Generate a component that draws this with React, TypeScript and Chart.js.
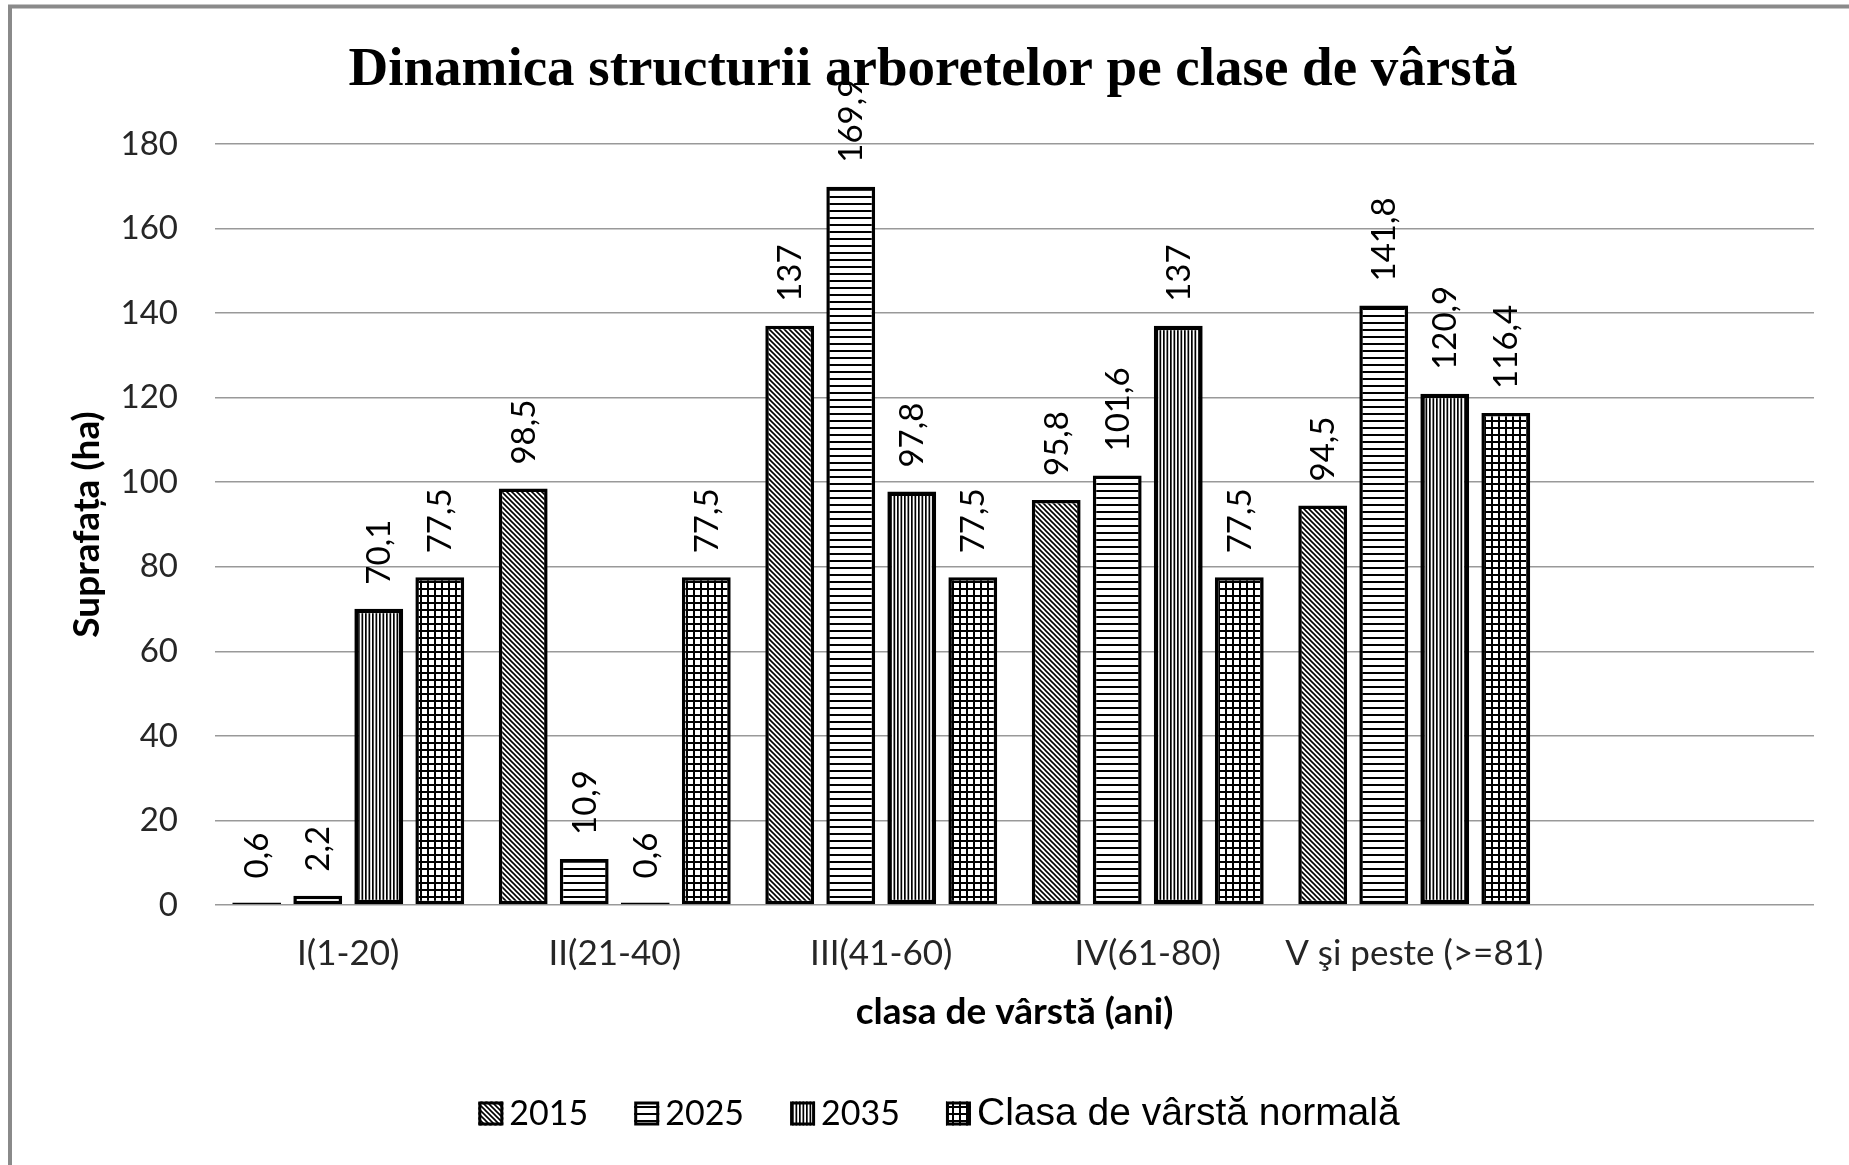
import React, { useEffect, useRef } from 'react';
import { Chart, registerables } from 'chart.js';

Chart.register(...registerables);

const categories = ['I(1-20)', 'II(21-40)', 'III(41-60)', 'IV(61-80)', 'V şi peste (>=81)', ''];
const seriesNames = ['2015', '2025', '2035', 'Clasa de vârstă normală'];
const values2015 = [0.6, 98.5, 137, 95.8, 94.5, null];
const values2025 = [2.2, 10.9, 169.9, 101.6, 141.8, null];
const values2035 = [70.1, 0.6, 97.8, 137, 120.9, null];
const valuesNormal = [77.5, 77.5, 77.5, 77.5, 116.4, null];
const yMin = 0;
const yMax = 180;
const yStep = 20;

const titleText = 'Dinamica structurii arboretelor pe clase de vârstă';
const xTitle = 'clasa de vârstă (ani)';
const yTitle = 'Suprafața (ha)';

function makePattern(kind: string): CanvasPattern | string {
  const c = document.createElement('canvas');
  let w = 7;
  let h = 7;
  if (kind === 'diag') { w = 5; h = 5; }
  if (kind === 'horiz') { w = 4; h = 7; }
  if (kind === 'vert') { w = 7; h = 4; }
  c.width = w;
  c.height = h;
  const g = c.getContext('2d');
  if (!g) return '#fff';
  g.fillStyle = '#fff';
  g.fillRect(0, 0, w, h);
  g.fillStyle = '#000';
  g.strokeStyle = '#000';
  if (kind === 'diag') {
    g.lineWidth = 1.6;
    g.beginPath();
    g.moveTo(-1, -1); g.lineTo(w + 1, h + 1);
    g.moveTo(w - 1, -1); g.lineTo(w + 1, 1);
    g.moveTo(-1, h - 1); g.lineTo(1, h + 1);
    g.stroke();
  } else if (kind === 'horiz') {
    g.fillRect(0, 0, w, 2);
  } else if (kind === 'vert') {
    g.fillRect(1, 0, 1.7, h);
    g.fillRect(4.5, 0, 1.7, h);
  } else {
    g.fillRect(0, 0, w, 2);
    g.fillRect(0, 0, 2, h);
  }
  return g.createPattern(c, 'repeat') || '#fff';
}

const framePlugin = {
  id: 'frame',
  beforeDraw(chart: any) {
    const { ctx, width, height } = chart;
    ctx.save();
    ctx.fillStyle = '#ffffff';
    ctx.fillRect(0, 0, width, height);
    ctx.strokeStyle = '#8a8a8a';
    ctx.lineWidth = 4;
    ctx.strokeRect(10, 6.5, width + 40, height + 40);
    ctx.restore();
  },
};

const barLabelsPlugin = {
  id: 'barLabels',
  afterDatasetsDraw(chart: any) {
    const ctx = chart.ctx;
    ctx.save();
    ctx.font = '33px Lato';
    ctx.fillStyle = '#000';
    ctx.textAlign = 'left';
    ctx.textBaseline = 'middle';
    chart.data.datasets.forEach((ds: any, di: number) => {
      const meta = chart.getDatasetMeta(di);
      meta.data.forEach((el: any, i: number) => {
        const v = ds.data[i];
        if (v == null) return;
        const p = el.getProps(['x', 'y'], true);
        ctx.save();
        ctx.translate(p.x + 1, p.y - 24);
        ctx.rotate(-Math.PI / 2);
        ctx.fillText(String(v).replace('.', ','), 0, 0);
        ctx.restore();
      });
    });
    ctx.restore();
  },
};

const legendPlugin = {
  id: 'patternLegend',
  afterDraw(chart: any) {
    const ctx = chart.ctx;
    const boxW = 25;
    const boxH = 24;
    const gap = 6;
    const spacing = 46;
    const centerX = 939;
    const centerY = 1113.5;
    const items = chart.data.datasets.map((ds: any, i: number) => ({
      text: ds.label,
      fill: ds.backgroundColor,
      font: i === 3 ? '39px "Liberation Sans"' : '34px Lato',
    }));
    ctx.save();
    let total = 0;
    items.forEach((it: any) => {
      ctx.font = it.font;
      it.w = ctx.measureText(it.text).width;
      total += boxW + gap + it.w;
    });
    total += spacing * (items.length - 1);
    let x = centerX - total / 2;
    ctx.textAlign = 'left';
    ctx.textBaseline = 'middle';
    items.forEach((it: any) => {
      ctx.fillStyle = it.fill;
      ctx.fillRect(x, centerY - boxH / 2, boxW, boxH);
      ctx.strokeStyle = '#000';
      ctx.lineWidth = 3;
      ctx.strokeRect(x + 1.5, centerY - boxH / 2 + 1.5, boxW - 3, boxH - 3);
      ctx.fillStyle = '#000';
      ctx.font = it.font;
      ctx.fillText(it.text, x + boxW + gap, centerY + 1);
      x += boxW + gap + it.w + spacing;
    });
    ctx.restore();
  },
};

export default function App() {
  const ref = useRef<HTMLCanvasElement | null>(null);

  useEffect(() => {
    if (!ref.current) return;
    const common = { borderColor: '#000', categoryPercentage: 0.916, barPercentage: 0.8, borderSkipped: false };
    const chart = new Chart(ref.current, {
      type: 'bar',
      data: {
        labels: categories,
        datasets: [
          { label: seriesNames[0], data: values2015, backgroundColor: makePattern('diag'), borderWidth: 3.5, ...common },
          { label: seriesNames[1], data: values2025, backgroundColor: makePattern('horiz'), borderWidth: 3.5, ...common },
          { label: seriesNames[2], data: values2035, backgroundColor: makePattern('vert'), borderWidth: 4.5, ...common },
          { label: seriesNames[3], data: valuesNormal, backgroundColor: makePattern('grid'), borderWidth: 3.5, ...common },
        ] as any,
      },
      options: {
        animation: false,
        responsive: false,
        devicePixelRatio: 1,
        layout: { padding: { left: 52, right: 35, top: 0, bottom: 112.5 } },
        plugins: {
          title: {
            display: true,
            text: titleText,
            color: '#000',
            font: { family: 'Liberation Serif', size: 55, weight: 'bold' },
            padding: { top: 38, bottom: 40 },
          },
          legend: { display: false },
          tooltip: { enabled: false },
        },
        scales: {
          x: {
            grid: { display: false, drawTicks: false },
            border: { display: false },
            ticks: {
              font: { family: 'Lato', size: 35 },
              color: '#262626',
              padding: 28,
              maxRotation: 0,
              autoSkip: false,
            },
            title: {
              display: true,
              text: xTitle,
              color: '#000',
              font: { family: 'Lato', size: 37, weight: 'bold' },
              padding: { top: 0, bottom: 18 },
            },
            afterFit: (s: any) => { s.height = 147.5; },
          },
          y: {
            min: yMin,
            max: yMax,
            ticks: {
              stepSize: yStep,
              font: { family: 'Lato', size: 33 },
              color: '#262626',
              padding: 37,
            },
            grid: { color: '#999', lineWidth: 1.5, drawTicks: false },
            border: { display: false },
            title: {
              display: true,
              text: yTitle,
              color: '#000',
              font: { family: 'Lato', size: 37, weight: 'bold' },
              padding: { top: 12.8, bottom: 0 },
            },
            afterFit: (s: any) => { s.width = 163; },
          },
        },
      } as any,
      plugins: [framePlugin, barLabelsPlugin, legendPlugin],
    });
    return () => chart.destroy();
  }, []);

  return (
    <div style={{ position: 'fixed', left: 0, top: 0, width: 1849, height: 1165, overflow: 'hidden', background: '#fff' }}>
      <canvas ref={ref} width={1849} height={1165} style={{ width: 1849, height: 1165, display: 'block' }} />
    </div>
  );
}
